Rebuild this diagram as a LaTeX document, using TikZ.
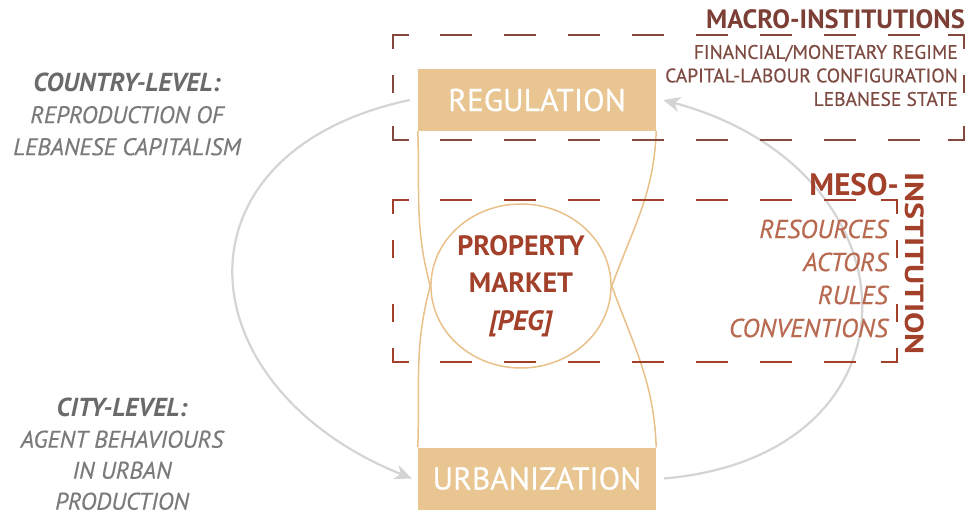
\documentclass[tikz,border=0pt]{standalone}
\usepackage{fontspec}
\setmainfont{PT Sans}[
UprightFeatures={FakeBold=0.5},
ItalicFeatures={FakeBold=0.5}]
\usetikzlibrary{shapes.geometric,arrows.meta}

\definecolor{stagetan}{HTML}{E9C592}
\definecolor{hourtan}{HTML}{E9C08A}
\definecolor{cyclegray}{HTML}{D4D4D4}
\definecolor{macrobrown}{HTML}{7B3F35}
\definecolor{macroitem}{HTML}{7E4B43}
\definecolor{macroframe}{HTML}{84483E}
\definecolor{mesored}{HTML}{A2402A}
\definecolor{mesoitem}{HTML}{B86A51}
\definecolor{levelgray}{HTML}{6A6A6A}
\definecolor{levelitem}{HTML}{7A7A7A}

\begin{document}
\begin{tikzpicture}[x=1pt,y=1pt]
\useasboundingbox (0,0) rectangle (970,515);

\tikzset{stage/.style={
rectangle,fill=stagetan,text=white,
minimum width=238pt,
minimum height=62pt,
inner sep=0pt,
font=\fontsize{31.5}{34}\selectfont}}

\tikzset{market/.style={
ellipse,draw=hourtan,line width=1.5pt,
minimum width=178pt,
minimum height=164pt,
inner sep=0pt,
text=mesored,align=center,
font=\fontsize{28}{37.5}\selectfont\bfseries}}

\tikzset{hourglass/.style={draw=hourtan,line width=1.5pt}}
\tikzset{cyclearrow/.style={draw=cyclegray,line width=2.2pt,
-{Stealth[length=17pt,width=15pt,inset=5pt]}}}
\tikzset{hdash/.style={line width=2.6pt,dash pattern=on 32pt off 32pt}}
\tikzset{vdash/.style={line width=2.6pt,dash pattern=on 18pt off 46pt}}
\tikzset{corner/.style={line width=2.6pt,miter limit=2}}

% the two stages and the market between them
\draw
(537,415) node[stage,name=reg] {REGULATION}
(537,36.5) node[stage,name=urb] {URBANIZATION}
(521,229) node[market,name=market] {PROPERTY\\MARKET\\\textit{[PEG]}};

\draw[hourglass]
(reg.south west) to[out=-88,in=105] (market.west)
to[out=-105,in=88] (urb.north west);
\draw[hourglass]
(reg.south east) to[out=-92,in=70] (market.east)
to[out=-70,in=92] (urb.north east);

% regulation <-> urbanization cycle
\draw[cyclearrow]
([xshift=-8pt]reg.west) .. controls +(192:248) and +(158:248) ..
([xshift=-6pt]urb.west);
\draw[cyclearrow]
([xshift=8pt]urb.east) .. controls +(5:268) and +(-15:268) ..
([xshift=7pt]reg.east);

% macro frame
\draw[macroframe,corner] (409,480) -- (393,480) -- (393,466);
\draw[macroframe,corner] (393,389) -- (393,375) -- (409,375);
\draw[macroframe,corner] (948,480) -- (964,480) -- (964,466);
\draw[macroframe,corner] (964,389) -- (964,375) -- (948,375);
\draw[macroframe,hdash] (440,480) -- (920,480);
\draw[macroframe,hdash] (440,375) -- (920,375);
\draw[macroframe,vdash] (393,440) -- (393,415);
\draw[macroframe,vdash] (964,440) -- (964,415);

% meso frame
\draw[mesored,corner] (409,315) -- (393,315) -- (393,301);
\draw[mesored,corner] (393,167) -- (393,153) -- (409,153);
\draw[mesored,corner] (881,315) -- (897,315) -- (897,301);
\draw[mesored,corner] (897,167) -- (897,153) -- (881,153);
\draw[mesored,hdash] (440,315) -- (856,315);
\draw[mesored,hdash] (440,153) -- (856,153);
\draw[mesored,vdash] (393,275) -- (393,193);
\draw[mesored,vdash] (897,275) -- (897,193);

% institution labels
\draw
(965,496) node[anchor=east,inner sep=0pt,text=macrobrown,
font=\fontsize{26.5}{30}\selectfont\bfseries,name=macroTitle]
{MACRO-INSTITUTIONS}
(958,439.5) node[anchor=east,inner sep=0pt,text=macroitem,align=right,
font=\fontsize{19.5}{23.5}\selectfont,name=macroList]
{FINANCIAL/MONETARY REGIME\\CAPITAL-LABOUR CONFIGURATION\\LEBANESE STATE};

\draw
(899,330) node[anchor=east,inner sep=0pt,text=mesored,
font=\fontsize{31}{36}\selectfont\bfseries,name=mesoTitle]
{MESO-}
(915,251.5) node[rotate=-90,yscale=0.82,inner sep=0pt,text=mesored,
font=\fontsize{32}{36}\selectfont\bfseries,name=mesoSide]
{INSTITUTION}
(888,236.5) node[anchor=east,inner sep=0pt,text=mesoitem,align=right,
font=\fontsize{26}{33}\selectfont\itshape,name=mesoList]
{RESOURCES\\ACTORS\\RULES\\CONVENTIONS};

% level labels
\draw
(127,401) node[inner sep=0pt,text=levelitem,align=center,
font=\fontsize{24}{32}\selectfont\itshape,name=countryLevel]
{{\fontsize{26}{32}\selectfont\bfseries\color{levelgray}COUNTRY-LEVEL:}\\
REPRODUCTION OF\\LEBANESE CAPITALISM}
(122,61) node[inner sep=0pt,text=levelitem,align=center,
font=\fontsize{24}{31}\selectfont\itshape,name=cityLevel]
{{\fontsize{26}{31}\selectfont\bfseries\color{levelgray}CITY-LEVEL:}\\
AGENT BEHAVIOURS\\IN URBAN\\PRODUCTION};

\end{tikzpicture}
\end{document}
